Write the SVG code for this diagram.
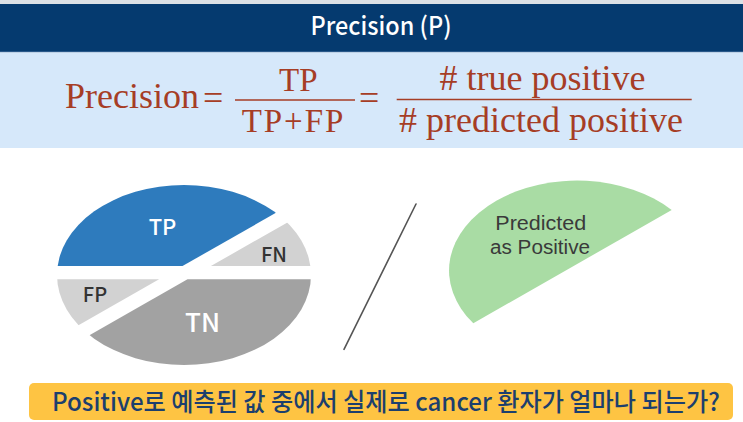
<svg xmlns="http://www.w3.org/2000/svg" width="743" height="422" viewBox="0 0 743 422">
  <style>
    .formula { font-family: "Liberation Serif", "Times New Roman", serif; fill: #A63D25; }
    .bar { stroke: #A63D25; stroke-width: 1.6; }
    .lbl { font-family: "Noto Sans CJK KR", "Noto Sans", sans-serif; text-anchor: middle; font-weight: 500; }
    .light { fill: #FFFFFF; }
    .dark { fill: #333333; }
  </style>
  <defs>
    <clipPath id="ellClip">
      <ellipse cx="184" cy="275" rx="127" ry="90"/>
    </clipPath>
  </defs>

  <rect x="0" y="0" width="743" height="422" fill="#FFFFFF"/>

  <g id="header">
    <rect x="0" y="0" width="743" height="5" fill="#DCE0E5"/>
    <rect x="0" y="4" width="743" height="48" fill="#053A6F"/>
    <rect x="0" y="51.5" width="743" height="1" fill="#4E77A3"/>
    <text x="381" y="35" font-family="'Noto Sans CJK KR', 'Noto Sans', sans-serif" font-weight="500" font-size="25" fill="#FFFFFF" text-anchor="middle" textLength="141" lengthAdjust="spacingAndGlyphs">Precision (P)</text>
  </g>

  <g id="formula">
    <rect x="0" y="52.5" width="743" height="95.5" fill="#D6E8FA"/>
    <text class="formula" x="65" y="108.3" font-size="36">Precision</text>
    <text class="formula" x="203" y="110" font-size="36">=</text>
    <text class="formula" x="298.3" y="91" font-size="33" text-anchor="middle">TP</text>
    <line class="bar" x1="235" y1="100" x2="355" y2="100"/>
    <text class="formula" x="241.7" y="132.3" font-size="33" textLength="101.6" lengthAdjust="spacing">TP+FP</text>
    <text class="formula" x="359" y="110" font-size="36">=</text>
    <text class="formula" x="542.5" y="90" font-size="36" text-anchor="middle"># true positive</text>
    <line class="bar" x1="396.7" y1="99.5" x2="691.7" y2="99.5"/>
    <text class="formula" x="541" y="132.3" font-size="36" text-anchor="middle"># predicted positive</text>
  </g>

  <g id="confusion-ellipse" clip-path="url(#ellClip)">
    <g id="TP">
      <polygon points="40,266.05 182.5,266.05 386.1,150 40,150" fill="#2E7BBD"/>
    </g>
    <g id="FN">
      <polygon points="210.9,266.05 330,266.05 330,150 414.5,150" fill="#D2D2D2"/>
    </g>
    <g id="FP">
      <polygon points="-20,279.35 159.1,279.35 -17.4,380 -20,380" fill="#D2D2D2"/>
    </g>
    <g id="TN">
      <polygon points="187.5,279.35 330,279.35 330,380 11,380" fill="#A2A2A2"/>
    </g>
  </g>
  <g id="ellipse-labels">
    <text class="lbl light" x="162.5" y="235" font-size="22">TP</text>
    <text class="lbl dark" x="274" y="262" font-size="20">FN</text>
    <text class="lbl dark" x="95" y="302" font-size="20">FP</text>
    <text class="lbl light" x="202.5" y="332" font-size="26">TN</text>
  </g>

  <g id="connectors">
    <line x1="416" y1="204" x2="344" y2="349.3" stroke="#555555" stroke-width="1.6" stroke-linecap="round"/>
  </g>

  <g id="predicted-positive">
    <path d="M473.3,323.3 A128,90 0 0 1 671.7,210 Z" fill="#A9DCA4"/>
    <text x="540.8" y="230" font-family="'Liberation Sans', Arial, sans-serif" font-size="20" fill="#3A3A3A" text-anchor="middle" textLength="91" lengthAdjust="spacingAndGlyphs">Predicted</text>
    <text x="540" y="253.5" font-family="'Liberation Sans', Arial, sans-serif" font-size="20" fill="#3A3A3A" text-anchor="middle" textLength="100" lengthAdjust="spacingAndGlyphs">as Positive</text>
  </g>

  <g id="question">
    <rect x="29" y="383" width="704" height="37" rx="5" ry="5" fill="#FEC443"/>
    <text x="52" y="410.5" font-family="'Noto Sans CJK KR', 'Noto Sans', sans-serif" font-size="25" font-weight="500" fill="#1C3F6E" textLength="668" lengthAdjust="spacingAndGlyphs">Positive로 예측된 값 중에서 실제로 cancer 환자가 얼마나 되는가?</text>
  </g>
</svg>
